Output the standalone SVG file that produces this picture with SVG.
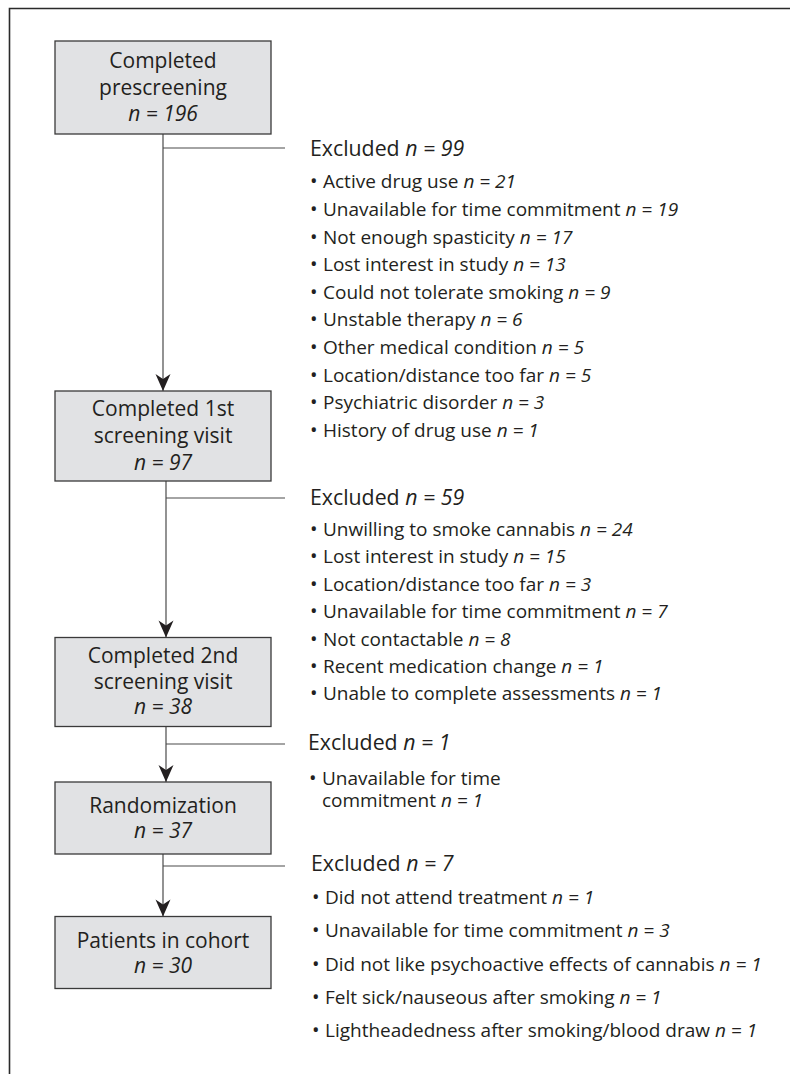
<svg xmlns="http://www.w3.org/2000/svg" width="790" height="1074" viewBox="0 0 790 1074">
<style>
.frame{fill:none;stroke:#2a2a2a;stroke-width:1.6}
.box{fill:#e1e2e4;stroke:#3a3a3a;stroke-width:1.3}
.bt{font-family:"Open Sans","Noto Sans",sans-serif;font-size:21px;fill:#231f20;text-anchor:middle}
.hd{font-family:"Open Sans","Noto Sans",sans-serif;font-size:21.3px;fill:#231f20}
.li{font-family:"Open Sans","Noto Sans",sans-serif;font-size:19px;fill:#231f20}
.bu{font-size:20px}
.it{font-style:italic}
.ln{fill:none;stroke:#4a4a4a;stroke-width:1.2}
</style>
<defs>
<marker id="ah" markerUnits="userSpaceOnUse" markerWidth="18" markerHeight="16" refX="17" refY="8" orient="auto" overflow="visible">
<path d="M17,8 L0,0.5 L5,8 L0,15.5 Z" fill="#231f20"/>
</marker>
</defs>
<rect width="790" height="1074" fill="#ffffff"/>
<path class="frame" d="M9.5,1074 V8.5 H790"/>

<g id="connectors">
<line class="ln" x1="163" y1="134" x2="163" y2="391" marker-end="url(#ah)"/>
<line class="ln" x1="163" y1="148" x2="285" y2="148"/>
<line class="ln" x1="166" y1="481" x2="166" y2="637.5" marker-end="url(#ah)"/>
<line class="ln" x1="166" y1="498" x2="285" y2="498"/>
<line class="ln" x1="166" y1="727" x2="166" y2="782" marker-end="url(#ah)"/>
<line class="ln" x1="166" y1="744" x2="285" y2="744"/>
<line class="ln" x1="163" y1="854" x2="163" y2="916.5" marker-end="url(#ah)"/>
<line class="ln" x1="163" y1="866" x2="285" y2="866"/>
</g>

<g id="node-prescreening">
<rect class="box" x="55" y="41" width="216" height="93"/>
<text class="bt" x="163" y="68">Completed<tspan x="163" dy="27">prescreening</tspan><tspan x="163" dy="26" class="it">n = 196</tspan></text>
</g>

<g id="node-screening1">
<rect class="box" x="55" y="391" width="216" height="90"/>
<text class="bt" x="163" y="416">Completed 1st<tspan x="163" dy="27">screening visit</tspan><tspan x="163" dy="27" class="it">n = 97</tspan></text>
</g>

<g id="node-screening2">
<rect class="box" x="55" y="637.5" width="216" height="89"/>
<text class="bt" x="163" y="663">Completed 2nd<tspan x="163" dy="25.5">screening visit</tspan><tspan x="163" dy="25.5" class="it">n = 38</tspan></text>
</g>

<g id="node-randomization">
<rect class="box" x="55" y="782" width="216" height="72"/>
<text class="bt" x="163" y="813">Randomization<tspan x="163" dy="25" class="it">n = 37</tspan></text>
</g>

<g id="node-cohort">
<rect class="box" x="55" y="916.5" width="216" height="72"/>
<text class="bt" x="163" y="948">Patients in cohort<tspan x="163" dy="25" class="it">n = 30</tspan></text>
</g>

<g id="excluded-1">
<text class="hd" x="310" y="156">Excluded <tspan class="it">n = 99</tspan></text>
<text class="li" x="310" y="188.3"><tspan class="bu">•</tspan><tspan x="323">Active drug use </tspan><tspan class="it">n = 21</tspan></text>
<text class="li" x="310" y="215.9"><tspan class="bu">•</tspan><tspan x="323">Unavailable for time commitment </tspan><tspan class="it">n = 19</tspan></text>
<text class="li" x="310" y="243.5"><tspan class="bu">•</tspan><tspan x="323">Not enough spasticity </tspan><tspan class="it">n = 17</tspan></text>
<text class="li" x="310" y="271.1"><tspan class="bu">•</tspan><tspan x="323">Lost interest in study </tspan><tspan class="it">n = 13</tspan></text>
<text class="li" x="310" y="298.7"><tspan class="bu">•</tspan><tspan x="323">Could not tolerate smoking </tspan><tspan class="it">n = 9</tspan></text>
<text class="li" x="310" y="326.3"><tspan class="bu">•</tspan><tspan x="323">Unstable therapy </tspan><tspan class="it">n = 6</tspan></text>
<text class="li" x="310" y="353.9"><tspan class="bu">•</tspan><tspan x="323">Other medical condition </tspan><tspan class="it">n = 5</tspan></text>
<text class="li" x="310" y="381.5"><tspan class="bu">•</tspan><tspan x="323">Location/distance too far </tspan><tspan class="it">n = 5</tspan></text>
<text class="li" x="310" y="409.1"><tspan class="bu">•</tspan><tspan x="323">Psychiatric disorder </tspan><tspan class="it">n = 3</tspan></text>
<text class="li" x="310" y="436.7"><tspan class="bu">•</tspan><tspan x="323">History of drug use </tspan><tspan class="it">n = 1</tspan></text>
</g>

<g id="excluded-2">
<text class="hd" x="310" y="505">Excluded <tspan class="it">n = 59</tspan></text>
<text class="li" x="310" y="536">
<tspan class="bu">•</tspan><tspan x="323">Unwilling to smoke cannabis </tspan><tspan class="it">n = 24</tspan></text>
<text class="li" x="310" y="563.4"><tspan class="bu">•</tspan><tspan x="323">Lost interest in study </tspan><tspan class="it">n = 15</tspan></text>
<text class="li" x="310" y="590.8"><tspan class="bu">•</tspan><tspan x="323">Location/distance too far </tspan><tspan class="it">n = 3</tspan></text>
<text class="li" x="310" y="618.2"><tspan class="bu">•</tspan><tspan x="323">Unavailable for time commitment </tspan><tspan class="it">n = 7</tspan></text>
<text class="li" x="310" y="645.6"><tspan class="bu">•</tspan><tspan x="323">Not contactable </tspan><tspan class="it">n = 8</tspan></text>
<text class="li" x="310" y="673"><tspan class="bu">•</tspan><tspan x="323">Recent medication change </tspan><tspan class="it">n = 1</tspan></text>
<text class="li" x="310" y="700.4"><tspan class="bu">•</tspan><tspan x="323">Unable to complete assessments </tspan><tspan class="it">n = 1</tspan></text>
</g>

<g id="excluded-3">
<text class="hd" x="308" y="750">Excluded <tspan class="it">n = 1</tspan></text>
<text class="li" x="309" y="785"><tspan class="bu">•</tspan><tspan x="322">Unavailable for time</tspan><tspan x="322" dy="21.7">commitment </tspan><tspan class="it">n = 1</tspan></text>
</g>

<g id="excluded-4">
<text class="hd" x="311" y="871">Excluded <tspan class="it">n = 7</tspan></text>
<text class="li" x="312" y="904"><tspan class="bu">•</tspan><tspan x="325">Did not attend treatment </tspan><tspan class="it">n = 1</tspan></text>
<text class="li" x="312" y="937.3"><tspan class="bu">•</tspan><tspan x="325">Unavailable for time commitment </tspan><tspan class="it">n = 3</tspan></text>
<text class="li" x="312" y="970.5"><tspan class="bu">•</tspan><tspan x="325">Did not like psychoactive effects of cannabis </tspan><tspan class="it">n = 1</tspan></text>
<text class="li" x="312" y="1003.7"><tspan class="bu">•</tspan><tspan x="325">Felt sick/nauseous after smoking </tspan><tspan class="it">n = 1</tspan></text>
<text class="li" x="312" y="1036.9"><tspan class="bu">•</tspan><tspan x="325">Lightheadedness after smoking/blood draw </tspan><tspan class="it">n = 1</tspan></text>
</g>
</svg>
